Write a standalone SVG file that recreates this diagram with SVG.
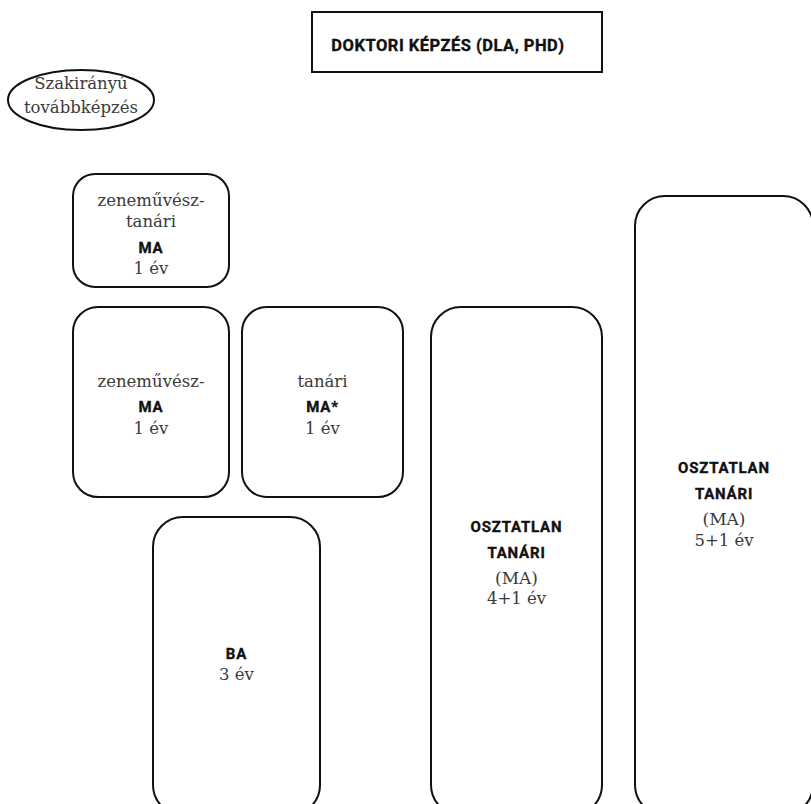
<svg xmlns="http://www.w3.org/2000/svg" width="811" height="804" viewBox="0 0 811 804">
<style>
.box{fill:#fff;stroke:#111;stroke-width:2}
.s{font-family:"DejaVu Serif","Liberation Serif",serif;font-size:16.5px;fill:#3a3a3a;text-anchor:middle}
.b{font-family:Roboto,"Liberation Sans",sans-serif;font-weight:bold;font-size:15px;fill:#111;stroke:#111;stroke-width:0.35;text-anchor:middle;letter-spacing:0.8px}
</style>
<rect width="811" height="804" fill="#fff"/>
<g id="connectors"/>
<g id="doktori">
<rect class="box" x="312" y="12" width="290" height="60"/>
<text class="b" x="448" y="51" style="font-size:16.5px;letter-spacing:0.5px">DOKTORI KÉPZÉS (DLA, PHD)</text>
</g>
<g id="szakiranyu">
<ellipse class="box" cx="81" cy="100" rx="73" ry="30"/>
<text class="s" x="81" y="89">Szakirányú</text>
<text class="s" x="81" y="113">továbbképzés</text>
</g>
<g id="zenemuvesz-tanari-ma">
<rect class="box" x="73" y="174" width="156" height="113" rx="22"/>
<text class="s" x="151" y="206">zeneművész-</text>
<text class="s" x="151" y="227">tanári</text>
<text class="b" x="151" y="253">MA</text>
<text class="s" x="151" y="274">1 év</text>
</g>
<g id="zenemuvesz-ma">
<rect class="box" x="73" y="307" width="156" height="190" rx="25"/>
<text class="s" x="151" y="387">zeneművész-</text>
<text class="b" x="151" y="412">MA</text>
<text class="s" x="151" y="434">1 év</text>
</g>
<g id="tanari-ma">
<rect class="box" x="242" y="307" width="161" height="190" rx="25"/>
<text class="s" x="322.5" y="387">tanári</text>
<text class="b" x="322.5" y="412">MA*</text>
<text class="s" x="322.5" y="434">1 év</text>
</g>
<g id="ba">
<rect class="box" x="153" y="517" width="167" height="298" rx="30"/>
<text class="b" x="236.5" y="659">BA</text>
<text class="s" x="236.5" y="680">3 év</text>
</g>
<g id="osztatlan-4-1">
<rect class="box" x="431" y="307" width="171" height="508" rx="30"/>
<text class="b" x="516.5" y="532">OSZTATLAN</text>
<text class="b" x="516.5" y="558">TANÁRI</text>
<text class="s" x="516.5" y="584" style="font-size:17px">(MA)</text>
<text class="s" x="516.5" y="604">4+1 év</text>
</g>
<g id="osztatlan-5-1">
<rect class="box" x="635" y="196" width="178" height="619" rx="30"/>
<text class="b" x="724" y="473">OSZTATLAN</text>
<text class="b" x="724" y="499">TANÁRI</text>
<text class="s" x="724" y="525" style="font-size:17px">(MA)</text>
<text class="s" x="724" y="546">5+1 év</text>
</g>
</svg>
